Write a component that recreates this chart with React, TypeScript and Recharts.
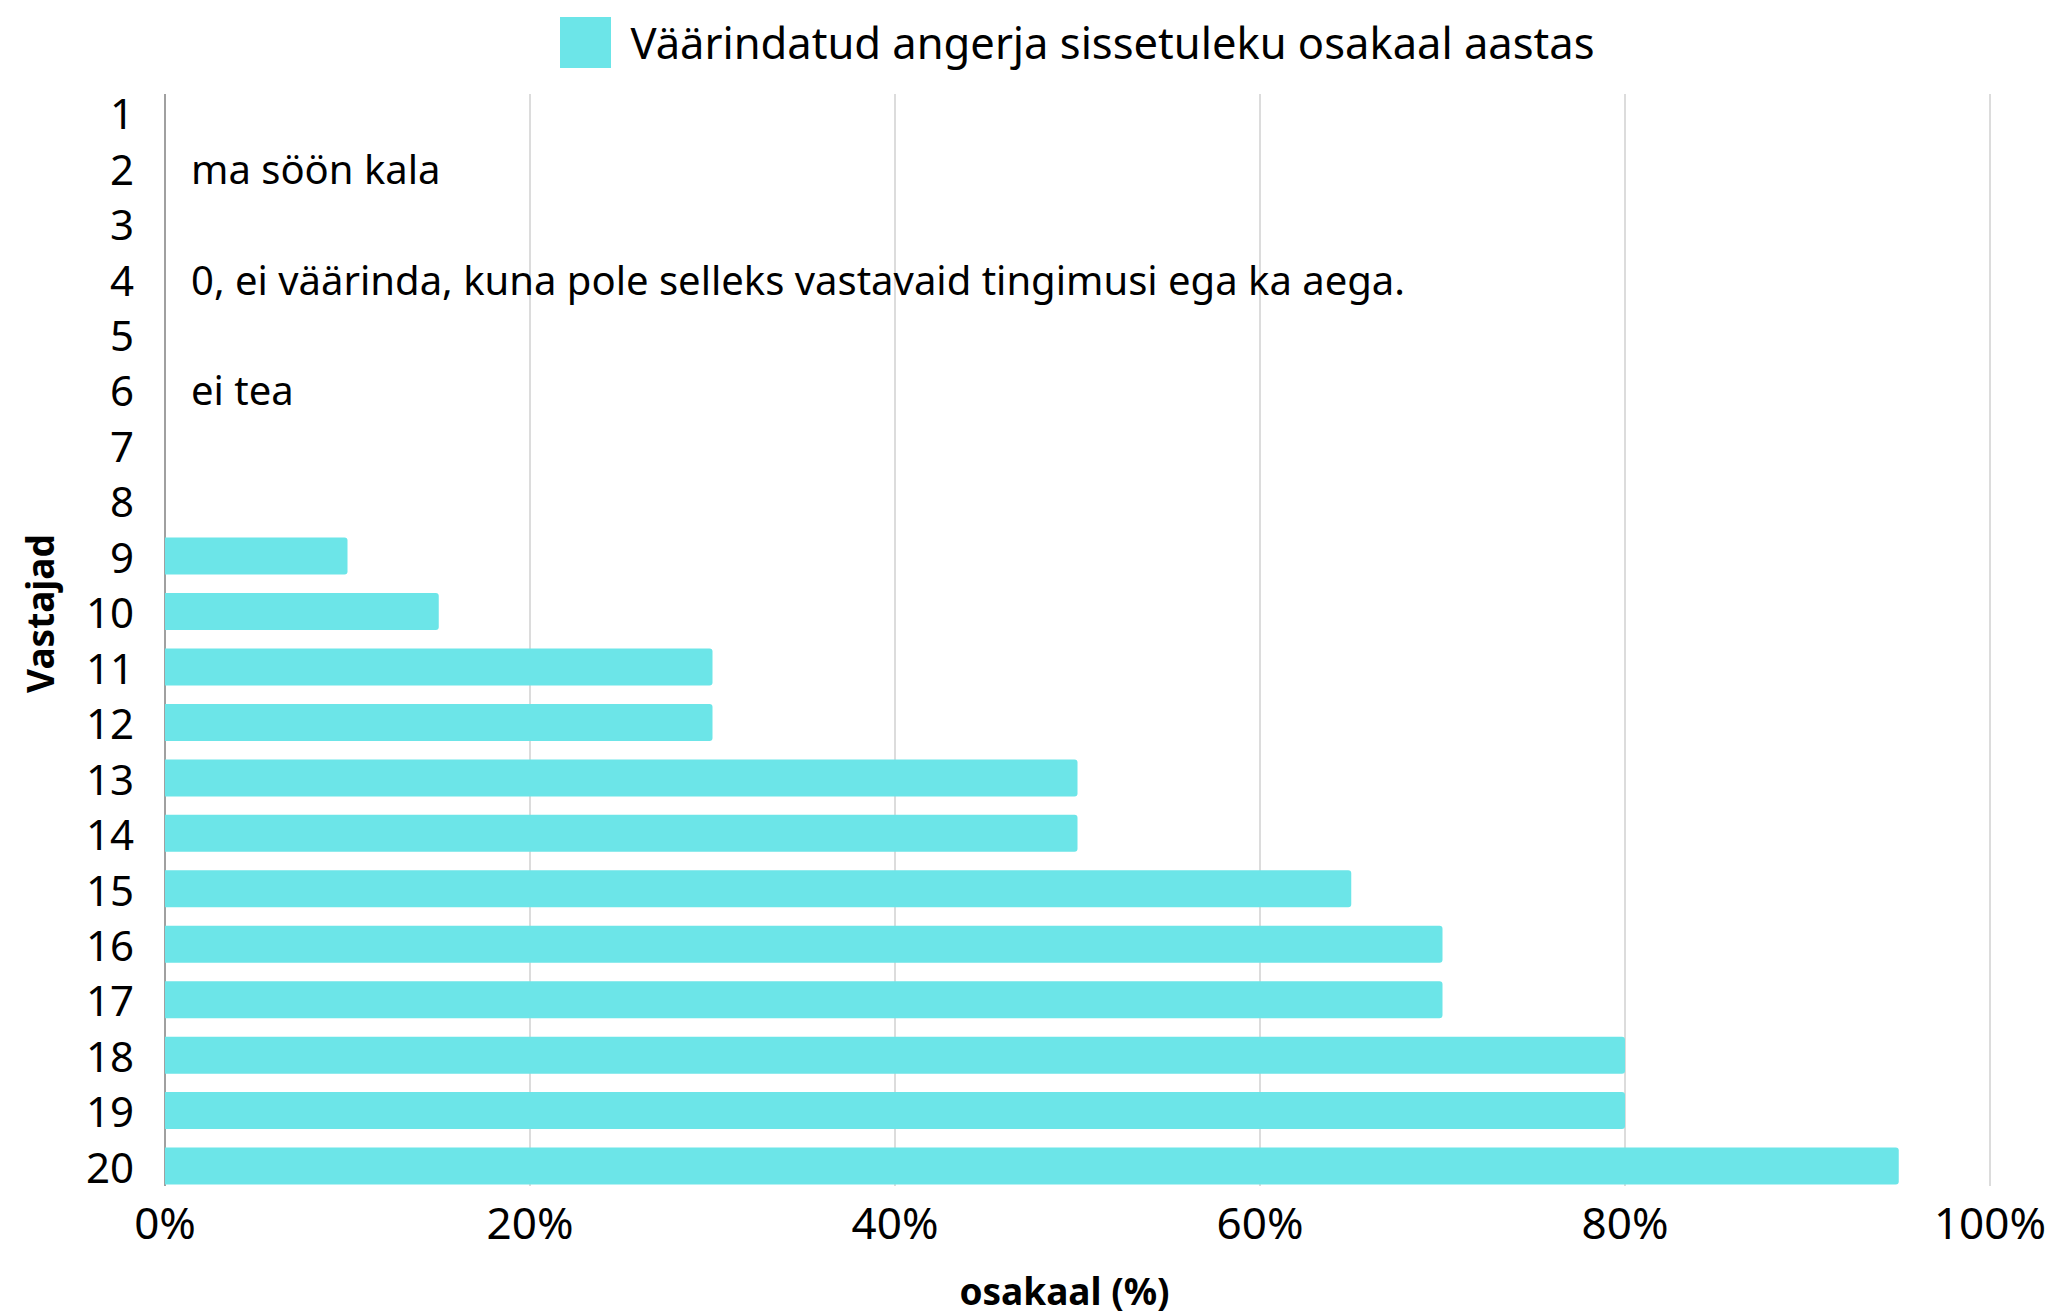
import {
  BarChart,
  Bar,
  XAxis,
  YAxis,
  CartesianGrid,
  Legend,
  Label,
} from "recharts";

const respondents = [
  "1", "2", "3", "4", "5", "6", "7", "8", "9", "10",
  "11", "12", "13", "14", "15", "16", "17", "18", "19", "20",
];

// share of value-added eel in yearly income (0..1)
const shares = [
  0, 0, 0, 0, 0, 0, 0, 0, 0.1, 0.15,
  0.3, 0.3, 0.5, 0.5, 0.65, 0.7, 0.7, 0.8, 0.8, 0.95,
];

// free-text answers written next to the axis
const notes = [
  "", "ma söön kala", "", "0, ei väärinda, kuna pole selleks vastavaid tingimusi ega ka aega.",
  "", "ei tea", "", "", "", "",
  "", "", "", "", "", "", "", "", "", "",
];

const xTicks = [0, 0.2, 0.4, 0.6, 0.8, 1];

const seriesName = "Väärindatud angerja sissetuleku osakaal aastas";
const barColor = "#6ce5e8";
const font = "'Noto Sans', 'Open Sans', sans-serif";

const chartData = respondents.map((name, i) => ({
  name,
  share: shares[i],
}));

const renderLegend = () => (
  <div
    style={{
      display: "flex",
      alignItems: "center",
      justifyContent: "center",
      fontFamily: font,
      fontSize: 43.5,
      color: "#000",
    }}
  >
    <div style={{ width: 51, height: 51, background: barColor, marginRight: 19 }} />
    <span>{seriesName}</span>
  </div>
);

// category tick: respondent number, plus the written answer inside the plot
const renderYTick = (props: any) => {
  const { x, y, payload } = props;
  const idx = respondents.indexOf(String(payload.value));
  const note = idx >= 0 ? notes[idx] : "";
  return (
    <g>
      <text
        x={x}
        y={y}
        textAnchor="end"
        dominantBaseline="central"
        fontFamily={font}
        fontSize={42}
        fill="#000"
      >
        {payload.value}
      </text>
      {note ? (
        <text
          x={x + 57}
          y={y}
          dominantBaseline="central"
          fontFamily={font}
          fontSize={40}
          fill="#000"
        >
          {note}
        </text>
      ) : null}
    </g>
  );
};

const App = () => {
  return (
    <div style={{ position: "absolute", left: 0, top: 0, width: 2054, height: 1316, background: "#fff" }}>
      <BarChart
        width={2054}
        height={1316}
        data={chartData}
        layout="vertical"
        margin={{ top: 85, right: 64, left: 0, bottom: 0 }}
      >
        <CartesianGrid horizontal={false} stroke="#d0d0d0" strokeWidth={1.5} y={94} height={1092} />
        <CartesianGrid
          horizontal={false}
          stroke="#a0a0a0"
          strokeWidth={2}
          y={94}
          height={1092}
          verticalCoordinatesGenerator={({ offset }: any) => [offset.left]}
        />
        <XAxis
          type="number"
          domain={[0, 1]}
          ticks={xTicks}
          tickFormatter={(v: number) => `${Math.round(v * 100)}%`}
          axisLine={false}
          tickLine={false}
          tickSize={0}
          tickMargin={14}
          height={122}
          tick={{ fontSize: 44, fill: "#000", fontFamily: font }}
        >
          <Label
            content={(p: any) => {
              const vb = p.viewBox;
              return (
                <text
                  x={vb.x + vb.width / 2 - 13}
                  y={vb.y + 111}
                  textAnchor="middle"
                  fontFamily={font}
                  fontWeight="bold"
                  fontSize={37}
                  fill="#000"
                >
                  osakaal (%)
                </text>
              );
            }}
          />
        </XAxis>
        <YAxis
          type="category"
          dataKey="name"
          width={165}
          interval={0}
          axisLine={false}
          tickLine={false}
          tickSize={0}
          tickMargin={31}
          tick={renderYTick}
        >
          <Label
            content={(p: any) => {
              const vb = p.viewBox;
              const cx = vb.x + 39;
              const cy = vb.y + vb.height / 2 - 26;
              return (
                <text
                  x={cx}
                  y={cy}
                  transform={`rotate(-90 ${cx} ${cy})`}
                  textAnchor="middle"
                  dominantBaseline="central"
                  fontFamily={font}
                  fontWeight="bold"
                  fontSize={37}
                  fill="#000"
                >
                  Vastajad
                </text>
              );
            }}
          />
        </YAxis>
        <Legend
          layout="horizontal"
          verticalAlign="middle"
          align="center"
          content={renderLegend}
          wrapperStyle={{ top: 12, left: 165, width: 1825 }}
        />
        <Bar
          dataKey="share"
          name={seriesName}
          fill={barColor}
          barSize={37}
          radius={[0, 3, 3, 0]}
          isAnimationActive={false}
        />
      </BarChart>
    </div>
  );
};

export default App;
